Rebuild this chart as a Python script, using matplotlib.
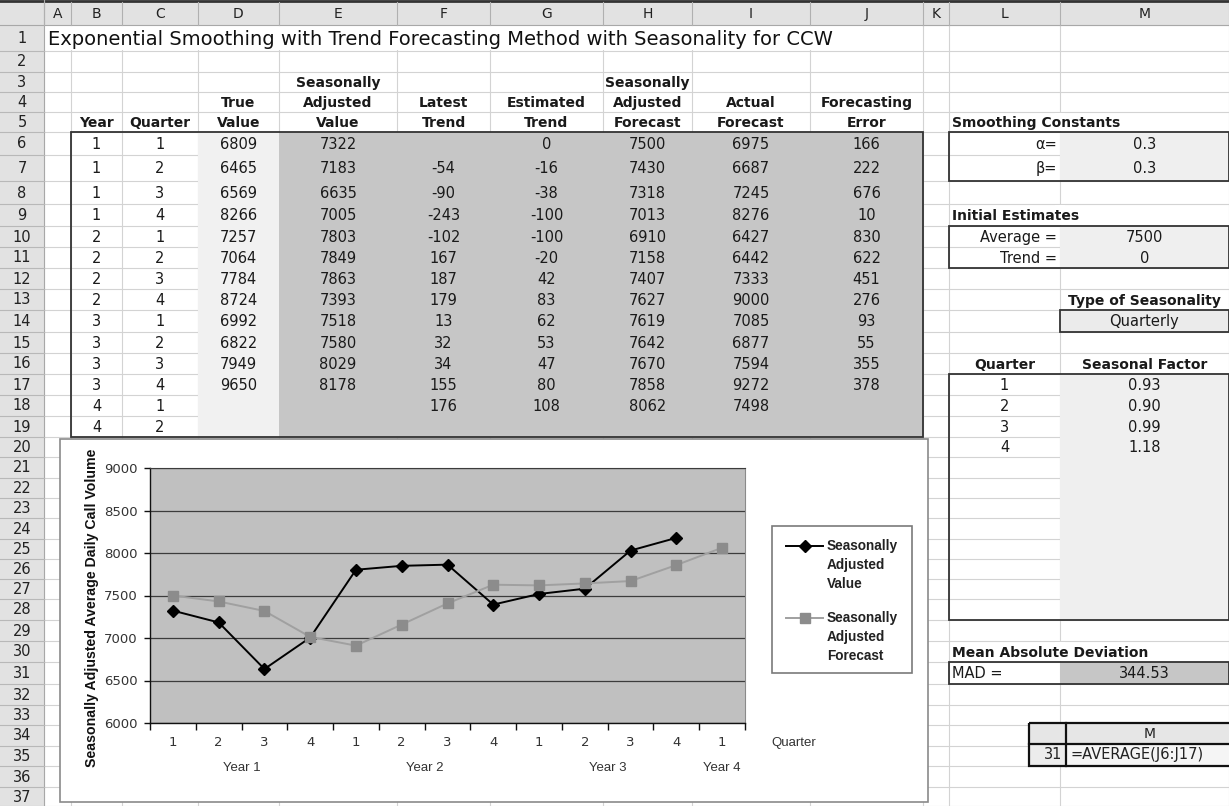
import matplotlib.pyplot as plt
from matplotlib.patches import Rectangle

# ---------------- spreadsheet data ----------------
years = [1, 1, 1, 1, 2, 2, 2, 2, 3, 3, 3, 3, 4, 4]
quarters = [1, 2, 3, 4, 1, 2, 3, 4, 1, 2, 3, 4, 1, 2]
true_value = [6809, 6465, 6569, 8266, 7257, 7064, 7784, 8724, 6992, 6822, 7949, 9650]
sa_value = [7322, 7183, 6635, 7005, 7803, 7849, 7863, 7393, 7518, 7580, 8029, 8178]
latest_trend = [None, -54, -90, -243, -102, 167, 187, 179, 13, 32, 34, 155, 176]
est_trend = [0, -16, -38, -100, -100, -20, 42, 83, 62, 53, 47, 80, 108]
sa_forecast = [7500, 7430, 7318, 7013, 6910, 7158, 7407, 7627, 7619, 7642, 7670, 7858, 8062]
actual_forecast = [6975, 6687, 7245, 8276, 6427, 6442, 7333, 9000, 7085, 6877, 7594, 9272, 7498]
forecast_error = [166, 222, 676, 10, 830, 622, 451, 276, 93, 55, 355, 378]

alpha = 0.3
beta = 0.3
init_average = 7500
init_trend = 0
season_type = 'Quarterly'
season_q = [1, 2, 3, 4]
season_factor = [0.93, 0.90, 0.99, 1.18]
mad = 344.53

title = 'Exponential Smoothing with Trend Forecasting Method with Seasonality for CCW'
head3 = {'E': 'Seasonally', 'H': 'Seasonally'}
head4 = {'D': 'True', 'E': 'Adjusted', 'F': 'Latest', 'G': 'Estimated',
         'H': 'Adjusted', 'I': 'Actual', 'J': 'Forecasting'}
head5 = {'B': 'Year', 'C': 'Quarter', 'D': 'Value', 'E': 'Value', 'F': 'Trend',
         'G': 'Trend', 'H': 'Forecast', 'I': 'Forecast', 'J': 'Error'}

# chart labels
quarter_ticks = ['1', '2', '3', '4', '1', '2', '3', '4', '1', '2', '3', '4', '1']
year_names = ['Year 1', 'Year 2', 'Year 3', 'Year 4']
year_pos = [1.5, 5.5, 9.5, 12]

# ---------------- sheet geometry (pixels) ----------------
letters = 'ABCDEFGHIJKLM'
col_edges = [0, 44, 71, 122, 198, 279, 397, 490, 603, 692, 810, 923, 949, 1060, 1229]
row_edges = [0, 25, 51, 72, 92, 112, 132, 155, 181, 204, 226, 247, 268, 289, 310, 332,
             353, 374, 395, 416, 437, 457, 478, 498, 518, 539, 559, 579, 599, 620, 641,
             662, 684, 705, 725, 746, 766, 787, 806]

W, H = 1229, 806
fig = plt.figure(figsize=(W / 100, H / 100), dpi=100)
ax = fig.add_axes([0, 0, 1, 1])
ax.set_xlim(0, W)
ax.set_ylim(H, 0)
ax.axis('off')

SHEET_FONT = 'DejaVu Sans'
CHART_FONT = 'Liberation Sans'
FS = 10.5
GRID = '#d3d3d3'
DARK = '#c6c6c6'
LIGHT = '#efefef'


def cx(col, where='center'):
    i = letters.index(col) + 1
    l, r = col_edges[i], col_edges[i + 1]
    if where == 'left':
        return l + 3
    if where == 'right':
        return r - 3
    return (l + r) / 2


def cy(row):
    return (row_edges[row] + row_edges[row + 1]) / 2


def put(col, row, s, where='center', bold=False, size=FS, color='#1a1a1a'):
    base = cy(row) + 0.36 * size * 1.389
    ax.text(cx(col, where), base, s, ha=where, va='baseline', fontsize=size,
            fontweight='bold' if bold else 'normal', family=SHEET_FONT, color=color)


def box(c1, r1, c2, r2, fill=None, edge=None, lw=1.3, z=2):
    x0 = col_edges[letters.index(c1) + 1]
    x1 = col_edges[letters.index(c2) + 2]
    y0, y1 = row_edges[r1], row_edges[r2 + 1]
    ax.add_patch(Rectangle((x0, y0), x1 - x0, y1 - y0,
                           facecolor=fill if fill else 'none',
                           edgecolor=edge if edge else 'none', lw=lw, zorder=z))


# gridlines
for y in row_edges[1:]:
    ax.plot([44, W], [y, y], color=GRID, lw=0.8, zorder=1)
for x in col_edges[1:]:
    ax.plot([x, x], [25, H], color=GRID, lw=0.8, zorder=1)

# hide lines behind overflowing text
ax.add_patch(Rectangle((45, row_edges[1] + 1), 923 - 46, row_edges[2] - row_edges[1] - 2,
                       facecolor='white', edgecolor='none', zorder=1.5))
for r in (5, 9, 30):
    ax.add_patch(Rectangle((1055, row_edges[r] + 1), 10, row_edges[r + 1] - row_edges[r] - 2,
                           facecolor='white', edgecolor='none', zorder=1.5))

# headers
ax.add_patch(Rectangle((0, 0), W, 25, facecolor='#e2e2e2', edgecolor='none', zorder=1.6))
ax.add_patch(Rectangle((0, 25), 44, H - 25, facecolor='#e2e2e2', edgecolor='none', zorder=1.6))
ax.plot([0, W], [1, 1], color='#333333', lw=2, zorder=3)
ax.plot([0, W], [25, 25], color='#a8a8a8', lw=0.8, zorder=3)
ax.plot([44, 44], [0, H], color='#a8a8a8', lw=0.8, zorder=3)
for x in col_edges[1:]:
    ax.plot([x, x], [2, 25], color='#b0b0b0', lw=0.8, zorder=3)
for y in row_edges[2:]:
    ax.plot([0, 44], [y, y], color='#b8b8b8', lw=0.8, zorder=3)
for i, L in enumerate(letters):
    ax.text((col_edges[i + 1] + col_edges[i + 2]) / 2, 18, L, ha='center', va='baseline',
            fontsize=10, family=SHEET_FONT, color='#222222', zorder=4)
for r in range(1, 38):
    ax.text(22, cy(r) + 5, str(r), ha='center', va='baseline', fontsize=10.5,
            family=SHEET_FONT, color='#222222', zorder=4)

# fills
box('D', 6, 'D', 19, fill='#f1f1f1')
box('E', 6, 'J', 19, fill=DARK)
box('M', 6, 'M', 7, fill=LIGHT)
box('M', 10, 'M', 11, fill=LIGHT)
box('M', 14, 'M', 14, fill='#ebebeb')
box('M', 17, 'M', 28, fill=LIGHT)
box('M', 31, 'M', 31, fill=DARK)

# borders
box('B', 6, 'J', 19, edge='#333333', z=3)
box('L', 6, 'M', 7, edge='#333333', z=3)
box('L', 10, 'M', 11, edge='#333333', z=3)
box('M', 14, 'M', 14, edge='#333333', z=3)
box('L', 17, 'M', 28, edge='#333333', z=3)
box('L', 31, 'M', 31, edge='#333333', z=3)

# title and column headings
ax.text(48, cy(1) + 0.36 * 14 * 1.389, title, ha='left', va='baseline', fontsize=14,
        family=SHEET_FONT, color='#111111', zorder=4)
for row, heads in ((3, head3), (4, head4), (5, head5)):
    for col, s in heads.items():
        put(col, row, s, bold=True, size=10)

# table body
for k in range(len(years)):
    put('B', 6 + k, str(years[k]))
    put('C', 6 + k, str(quarters[k]))
for k, v in enumerate(true_value):
    put('D', 6 + k, str(v))
for k, v in enumerate(sa_value):
    put('E', 6 + k, str(v))
for k, v in enumerate(latest_trend):
    if v is not None:
        put('F', 6 + k, str(v))
for k, v in enumerate(est_trend):
    put('G', 6 + k, str(v))
for k, v in enumerate(sa_forecast):
    put('H', 6 + k, str(v))
for k, v in enumerate(actual_forecast):
    put('I', 6 + k, str(v))
for k, v in enumerate(forecast_error):
    put('J', 6 + k, str(v))

# right-hand panel
put('L', 5, 'Smoothing Constants', where='left', bold=True, size=10)
put('L', 6, '\u03b1=', where='right')
put('M', 6, str(alpha))
put('L', 7, '\u03b2=', where='right')
put('M', 7, str(beta))
put('L', 9, 'Initial Estimates', where='left', bold=True, size=10)
put('L', 10, 'Average =', where='right')
put('M', 10, str(init_average))
put('L', 11, 'Trend =', where='right')
put('M', 11, str(init_trend))
put('M', 13, 'Type of Seasonality', bold=True, size=10)
put('M', 14, season_type)
put('L', 16, 'Quarter', bold=True, size=10)
put('M', 16, 'Seasonal Factor', bold=True, size=10)
for k in range(len(season_q)):
    put('L', 17 + k, str(season_q[k]))
    put('M', 17 + k, f'{season_factor[k]:.2f}')
put('L', 30, 'Mean Absolute Deviation', where='left', bold=True, size=10)
put('L', 31, 'MAD =', where='left')
put('M', 31, f'{mad:.2f}')

# formula callout
ax.add_patch(Rectangle((1029, 723), 200, 21, facecolor='#e6e6e6', edgecolor='none', zorder=5))
ax.add_patch(Rectangle((1029, 744), 37, 22, facecolor='#ececec', edgecolor='none', zorder=5))
ax.add_patch(Rectangle((1066, 744), 163, 22, facecolor='#f5f5f5', edgecolor='none', zorder=5))
ax.add_patch(Rectangle((1029, 723), 210, 43, facecolor='none', edgecolor='#111111', lw=1.6, zorder=6))
ax.plot([1066, 1066], [723, 766], color='#111111', lw=1.6, zorder=6)
ax.plot([1029, 1229], [744, 744], color='#111111', lw=1.6, zorder=6)
ax.text(1150, 738, 'M', ha='center', va='baseline', fontsize=10, family=SHEET_FONT,
        color='#222222', zorder=7)
ax.text(1062, 759, '31', ha='right', va='baseline', fontsize=10.5, family=SHEET_FONT,
        color='#222222', zorder=7)
ax.text(1071, 759, '=AVERAGE(J6:J17)', ha='left', va='baseline', fontsize=10.5,
        family=SHEET_FONT, color='#222222', zorder=7)

# ---------------- embedded chart ----------------
ax.add_patch(Rectangle((60, 439), 868, 363, facecolor='white', edgecolor='#8a8a8a',
                       lw=1.2, zorder=8))

px_l, px_r, px_t, px_b = 150, 745, 468, 723
cax = fig.add_axes([px_l / W, 1 - px_b / H, (px_r - px_l) / W, (px_b - px_t) / H])
cax.set_facecolor('#c0c0c0')
cax.set_xlim(-0.5, 12.5)
cax.set_ylim(6000, 9000)
cax.set_yticks(range(6000, 9001, 500))
cax.yaxis.grid(True, color='#3c3c3c', lw=0.9)
cax.set_axisbelow(True)

cax.plot(range(len(sa_value)), sa_value, color='black', lw=1.4, marker='D', ms=6,
         zorder=3, label='Seasonally\nAdjusted\nValue')
cax.plot(range(len(sa_forecast)), sa_forecast, color='#a0a0a0', lw=1.4, marker='s', ms=6.5,
         mfc='#8c8c8c', mec='#8c8c8c', zorder=4, label='Seasonally\nAdjusted\nForecast')

for s in ('left', 'bottom'):
    cax.spines[s].set_color('#111111')
    cax.spines[s].set_linewidth(1.0)
cax.spines['top'].set_color('#3c3c3c')
cax.spines['right'].set_color('#8a8a8a')

cax.set_xticks([i - 0.5 for i in range(14)])
cax.set_xticklabels([])
cax.tick_params(axis='x', length=5, width=1, color='#111111', direction='out')
cax.tick_params(axis='y', length=4, width=1, color='#111111', direction='out', pad=5,
                labelsize=9.5, labelcolor='#333333')
for lab in cax.get_yticklabels():
    lab.set_family(SHEET_FONT)

ph = px_b - px_t
tr = cax.get_xaxis_transform()
for i, q in enumerate(quarter_ticks):
    cax.text(i, -(743 - px_b) / ph, q, transform=tr, ha='center', va='center',
             fontsize=9.5, family=SHEET_FONT, color='#333333')
for x, name in zip(year_pos, year_names):
    cax.text(x, -(768 - px_b) / ph, name, transform=tr, ha='center', va='center',
             fontsize=9.5, family=CHART_FONT, color='#333333')
cax.text((771 - px_l) / (px_r - px_l), -(743 - px_b) / ph, 'Quarter', transform=cax.transAxes,
         ha='left', va='center', fontsize=9.5, family=CHART_FONT, color='#333333')

fig.text(92 / W, 1 - 608 / H, 'Seasonally Adjusted Average Daily Call Volume', rotation=90,
         ha='center', va='center', fontsize=10.2, fontweight='bold', family=CHART_FONT,
         color='#111111', zorder=10)

# legend box
ax.add_patch(Rectangle((772, 526), 140, 147, facecolor='white', edgecolor='#7a7a7a',
                       lw=1.2, zorder=9))
lines = cax.get_lines()
for line, ly in zip(lines, (546, 618)):
    ax.plot([786, 823], [ly, ly], color=line.get_color(), lw=1.4, zorder=10)
    ax.plot([805], [ly], marker=line.get_marker(), ms=line.get_markersize(),
            color=line.get_markerfacecolor(), zorder=11)
    ax.text(827, ly - 7, line.get_label(), ha='left', va='top', fontsize=9.8,
            fontweight='bold', family=CHART_FONT, color='#222222', linespacing=1.45, zorder=11)

plt.savefig('out.png', dpi=100)
